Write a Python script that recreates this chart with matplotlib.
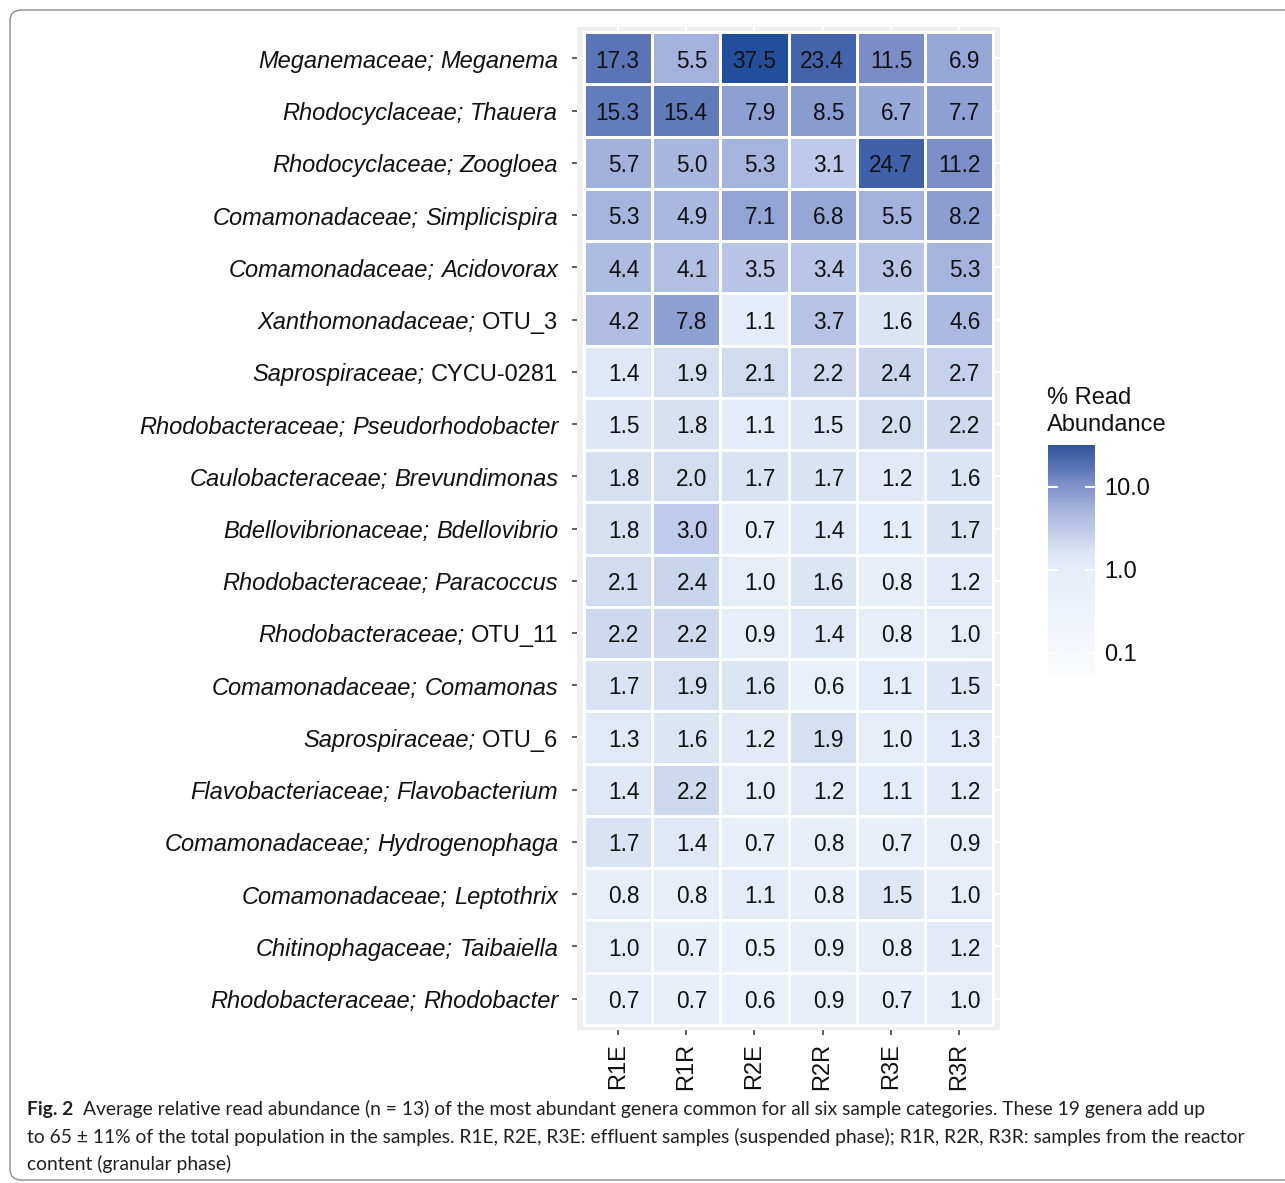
import numpy as np
import matplotlib
matplotlib.use("Agg")
import matplotlib.pyplot as plt
from matplotlib.colors import LinearSegmentedColormap, LogNorm
from matplotlib.cm import ScalarMappable
from matplotlib.patches import FancyBboxPatch
from matplotlib.ticker import NullLocator

plt.rcParams["font.family"] = ["Liberation Sans", "DejaVu Sans"]

samples = ["R1E", "R1R", "R2E", "R2R", "R3E", "R3R"]
families = ["Meganemaceae", "Rhodocyclaceae", "Rhodocyclaceae", "Comamonadaceae",
            "Comamonadaceae", "Xanthomonadaceae", "Saprospiraceae", "Rhodobacteraceae",
            "Caulobacteraceae", "Bdellovibrionaceae", "Rhodobacteraceae", "Rhodobacteraceae",
            "Comamonadaceae", "Saprospiraceae", "Flavobacteriaceae", "Comamonadaceae",
            "Comamonadaceae", "Chitinophagaceae", "Rhodobacteraceae"]
genera = ["Meganema", "Thauera", "Zoogloea", "Simplicispira", "Acidovorax", "OTU_3",
          "CYCU-0281", "Pseudorhodobacter", "Brevundimonas", "Bdellovibrio", "Paracoccus",
          "OTU_11", "Comamonas", "OTU_6", "Flavobacterium", "Hydrogenophaga",
          "Leptothrix", "Taibaiella", "Rhodobacter"]
genus_italic = [True, True, True, True, True, False, False, True, True, True, True,
                False, True, False, True, True, True, True, True]
values = np.array([
    [17.3, 5.5, 37.5, 23.4, 11.5, 6.9],
    [15.3, 15.4, 7.9, 8.5, 6.7, 7.7],
    [5.7, 5.0, 5.3, 3.1, 24.7, 11.2],
    [5.3, 4.9, 7.1, 6.8, 5.5, 8.2],
    [4.4, 4.1, 3.5, 3.4, 3.6, 5.3],
    [4.2, 7.8, 1.1, 3.7, 1.6, 4.6],
    [1.4, 1.9, 2.1, 2.2, 2.4, 2.7],
    [1.5, 1.8, 1.1, 1.5, 2.0, 2.2],
    [1.8, 2.0, 1.7, 1.7, 1.2, 1.6],
    [1.8, 3.0, 0.7, 1.4, 1.1, 1.7],
    [2.1, 2.4, 1.0, 1.6, 0.8, 1.2],
    [2.2, 2.2, 0.9, 1.4, 0.8, 1.0],
    [1.7, 1.9, 1.6, 0.6, 1.1, 1.5],
    [1.3, 1.6, 1.2, 1.9, 1.0, 1.3],
    [1.4, 2.2, 1.0, 1.2, 1.1, 1.2],
    [1.7, 1.4, 0.7, 0.8, 0.7, 0.9],
    [0.8, 0.8, 1.1, 0.8, 1.5, 1.0],
    [1.0, 0.7, 0.5, 0.9, 0.8, 1.2],
    [0.7, 0.7, 0.6, 0.9, 0.7, 1.0],
])
cbar_ticks = [0.1, 1.0, 10.0]
cbar_ticklabels = ["0.1", "1.0", "10.0"]

# colour scale (log)
scale_min, scale_max, cbar_max = 0.054, 40.0, 32.0
stop_values = [0.054, 0.1, 0.5, 1.0, 1.5, 2.0, 3.0, 5.5, 8.0, 11.5, 17.3, 24.0, 40.0]
stop_colors = ["#fbfcfe", "#f5f8fc", "#ebf1fa", "#e6edf7", "#dfe7f5", "#d3ddf0", "#bfcbea",
               "#a3b3dc", "#8c9fd2", "#7a8dc6", "#5a75b6", "#4363aa", "#1e4d99"]
norm = LogNorm(vmin=scale_min, vmax=scale_max, clip=True)
pos = [float(norm(v)) for v in stop_values]
pos[0], pos[-1] = 0.0, 1.0
cmap = LinearSegmentedColormap.from_list("ra", list(zip(pos, stop_colors)))

W, H = 1285, 1183
fig = plt.figure(figsize=(W / 100, H / 100), dpi=100)
FS = 17
TXT = "#111111"

ax = fig.add_axes([577 / W, 1 - 1030 / H, 423 / W, 1003 / H])
ax.set_facecolor("#f0f0f0")
nrow, ncol = values.shape
xe = np.arange(ncol + 1) - 0.5
ye = np.arange(nrow + 1) - 0.5
ax.pcolormesh(xe, ye, values[::-1], cmap=cmap, norm=norm, edgecolors="white",
              linewidth=1.8, zorder=2)
ax.set_axisbelow(True)
ax.grid(True, color="white", linewidth=1.6, zorder=0)
ax.set_xlim(-0.6, ncol - 0.4)
ax.set_ylim(-0.6, nrow - 0.4)
for s in ax.spines.values():
    s.set_visible(False)

ax.set_xticks(range(ncol))
ax.set_xticklabels(samples, rotation=90, fontsize=FS, color=TXT)
ax.set_yticks(range(nrow))
ax.set_yticklabels([""] * nrow)
ax.tick_params(axis="both", length=3.8, width=1.1, color="#333333")
ax.tick_params(axis="x", pad=5.5)

for i in range(nrow):
    y = nrow - 1 - i
    for j in range(ncol):
        ax.annotate(f"{values[i, j]:.1f}", xy=(j, y), xytext=(15.5, -2.0),
                    textcoords="offset points", ha="right", va="center",
                    fontsize=16.3, color=TXT, zorder=3)
    g = ax.annotate(genera[i], xy=(0, y), xycoords=("axes fraction", "data"),
                    xytext=(-13.5, -2.2), textcoords="offset points", ha="right",
                    va="center", fontsize=FS, color=TXT,
                    fontstyle="italic" if genus_italic[i] else "normal",
                    annotation_clip=False)
    ax.annotate(families[i] + ";", xy=(0, 0), xycoords=g, xytext=(-4.7, 0),
                textcoords="offset points", ha="right", va="bottom",
                fontsize=FS, color=TXT, fontstyle="italic",
                annotation_clip=False)

# colour bar
cax = fig.add_axes([1048 / W, 1 - 675 / H, 47 / W, 230 / H])
cb_cmap = LinearSegmentedColormap.from_list(
    "cb", cmap(np.linspace(0, float(norm(cbar_max)), 256)))
cb = fig.colorbar(ScalarMappable(norm=LogNorm(scale_min, cbar_max), cmap=cb_cmap), cax=cax)
cb.outline.set_visible(False)
cb.set_ticks(cbar_ticks)
cb.set_ticklabels(cbar_ticklabels)
cax.yaxis.set_minor_locator(NullLocator())
cax.tick_params(axis="y", which="major", direction="in", length=7, width=1.5,
                color="white", labelcolor=TXT, left=True, right=True,
                labelleft=False, labelright=True, labelsize=FS, pad=6.5)
fig.text(1047 / W, 1 - 387 / H, "% Read\nAbundance", ha="left", va="top",
         fontsize=FS, color=TXT, linespacing=1.32)

# caption
cap_font = ["Lato", "Liberation Sans", "DejaVu Sans"]
cap_col = "#231f20"
lines = ["Average relative read abundance (n = 13) of the most abundant genera common for all six sample categories. These 19 genera add up",
         "to 65 \u00b1 11% of the total population in the samples. R1E, R2E, R3E: effluent samples (suspended phase); R1R, R2R, R3R: samples from the reactor",
         "content (granular phase)"]
cap_fs = 14.0
t1 = fig.text(27 / W, 1 - 1110 / H, "Fig. 2", fontsize=cap_fs, fontweight="bold",
              family=cap_font, color=cap_col, va="center", ha="left")
t2 = ax.annotate(lines[0], xy=(1, 0), xycoords=t1, xytext=(7, 0), textcoords="offset points",
                 ha="left", va="bottom", fontsize=cap_fs, family=cap_font, color=cap_col,
                 annotation_clip=False)
others = []
for k, ln in enumerate(lines[1:]):
    others.append(fig.text(27 / W, 1 - (1137 + 27 * k) / H, ln, fontsize=cap_fs,
                           family=cap_font, color=cap_col, va="center", ha="left"))
# fit caption lines to the widths seen in the reference
fig.canvas.draw()
r = fig.canvas.get_renderer()
w1 = t2.get_window_extent(r).x1 - t1.get_window_extent(r).x0
w2 = others[0].get_window_extent(r).width
scale = 0.5 * ((1229 - 27) / w1 + (1232 - 27) / w2)
for t in [t1, t2] + others:
    t.set_fontsize(cap_fs * scale)

border = FancyBboxPatch((10 / W, 1 - 1180 / H), 1300 / W, 1170 / H,
                        boxstyle="round,pad=0,rounding_size=0.009",
                        transform=fig.transFigure, facecolor="none",
                        edgecolor="#8c8c8c", linewidth=1.0)
fig.add_artist(border)

fig.savefig("out.png", dpi=100)
